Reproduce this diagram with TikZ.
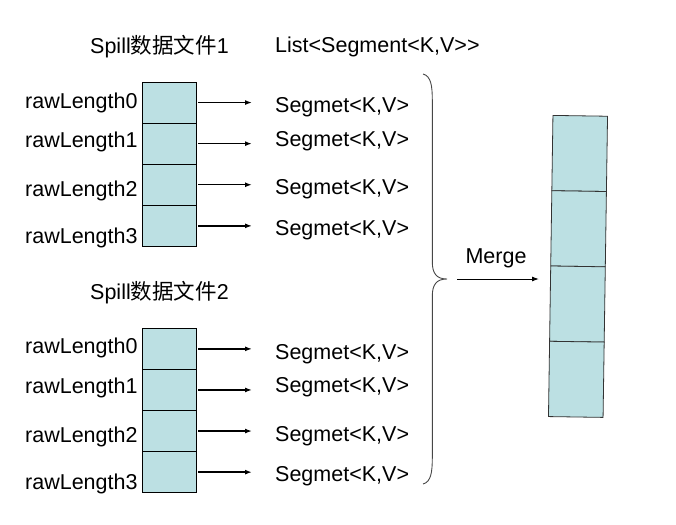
\documentclass[tikz,border=0pt]{standalone}
\usepackage{fontspec}
\setmainfont{Liberation Sans}
\newfontfamily\cjk{Noto Sans CJK SC}
\usetikzlibrary{arrows.meta}
\definecolor{cellfill}{RGB}{188,224,227}
\definecolor{bracecol}{RGB}{70,70,70}
\begin{document}
\begin{tikzpicture}[x=1pt,y=-1pt,
  lbl/.style={anchor=west,inner sep=0pt,yshift=-1.5pt,font=\fontsize{21.5}{25}\selectfont},
  cell/.style={draw=black,line width=0.8pt,fill=cellfill,minimum width=54.4pt,minimum height=41.1pt,inner sep=0pt,outer sep=0pt,anchor=north west},
  rcell/.style={draw=black!80,line width=0.8pt,fill=cellfill,minimum width=54.6pt,minimum height=75.3pt,inner sep=0pt,outer sep=0pt},
  arr/.style={line width=1.4pt,-{Latex[length=7pt,width=5pt]},shorten <=1.5pt},
  bracestyle/.style={draw=bracecol,line width=0.9pt}
]
\useasboundingbox (0,0) rectangle (676,524);
\coordinate (ae) at (252,0);

% headings
\node[lbl] (spill1) at (90,45) {Spill{\cjk 数据文件}1};
\node[lbl] (list) at (275,45) {List<Segment<K,V>{}>};
\node[lbl] (spill2) at (90,291) {Spill{\cjk 数据文件}2};

% block 1
\node[cell] (c11) at (142.3,82) {};
\node[cell] (c12) at (c11.south west) {};
\node[cell] (c13) at (c12.south west) {};
\node[cell] (c14) at (c13.south west) {};
\node[lbl] (r11) at (25,101) {rawLength0};
\node[lbl] (r12) at (25,140.7) {rawLength1};
\node[lbl] (r13) at (25,189) {rawLength2};
\node[lbl] (r14) at (25,236.7) {rawLength3};
\node[lbl] (s11) at (275,106) {Segmet<K,V>};
\node[lbl] (s12) at (275,140) {Segmet<K,V>};
\node[lbl] (s13) at (275,188) {Segmet<K,V>};
\node[lbl] (s14) at (275,229) {Segmet<K,V>};
\foreach \i in {1,...,4}{\draw[arr] (c1\i.east) -- (c1\i.east -| ae);}

% block 2
\node[cell] (c21) at (142.3,328.3) {};
\node[cell] (c22) at (c21.south west) {};
\node[cell] (c23) at (c22.south west) {};
\node[cell] (c24) at (c23.south west) {};
\node[lbl] (r21) at (25,346.7) {rawLength0};
\node[lbl] (r22) at (25,386.7) {rawLength1};
\node[lbl] (r23) at (25,435) {rawLength2};
\node[lbl] (r24) at (25,482.3) {rawLength3};
\node[lbl] (s21) at (275,352.3) {Segmet<K,V>};
\node[lbl] (s22) at (275,386) {Segmet<K,V>};
\node[lbl] (s23) at (275,434.3) {Segmet<K,V>};
\node[lbl] (s24) at (275,475) {Segmet<K,V>};
\foreach \i in {1,...,4}{\draw[arr] (c2\i.east) -- (c2\i.east -| ae);}

% brace
\coordinate (btop) at (423,74);
\coordinate (tip) at (447,279);
\coordinate (bbot) at (423,484);
\draw[bracestyle] (btop) .. controls (431,76) and (432.3,86) .. (432.3,100)
  -- (432.3,262) .. controls (432.3,274) and (437,279) .. (tip)
  .. controls (437,279) and (432.3,284) .. (432.3,296)
  -- (432.3,458) .. controls (432.3,472) and (431,482) .. (bbot);

% merged column
\begin{scope}[shift={(578,266.4)},rotate=-0.85,transform shape]
  \node[rcell] (m1) at (0,-112.95) {};
  \node[rcell] (m2) at (0,-37.65) {};
  \node[rcell] (m3) at (0,37.65) {};
  \node[rcell] (m4) at (0,112.95) {};
\end{scope}

% merge arrow
\coordinate (mstart) at (457,279);
\coordinate (mend) at (539,279);
\draw[line width=1pt,-{Latex[length=7pt,width=5pt]}] (mstart) -- (mend);
\node[font=\fontsize{21.5}{25}\selectfont,inner sep=0pt] (merge) at (496,258.5) {Merge};
\end{tikzpicture}
\end{document}
